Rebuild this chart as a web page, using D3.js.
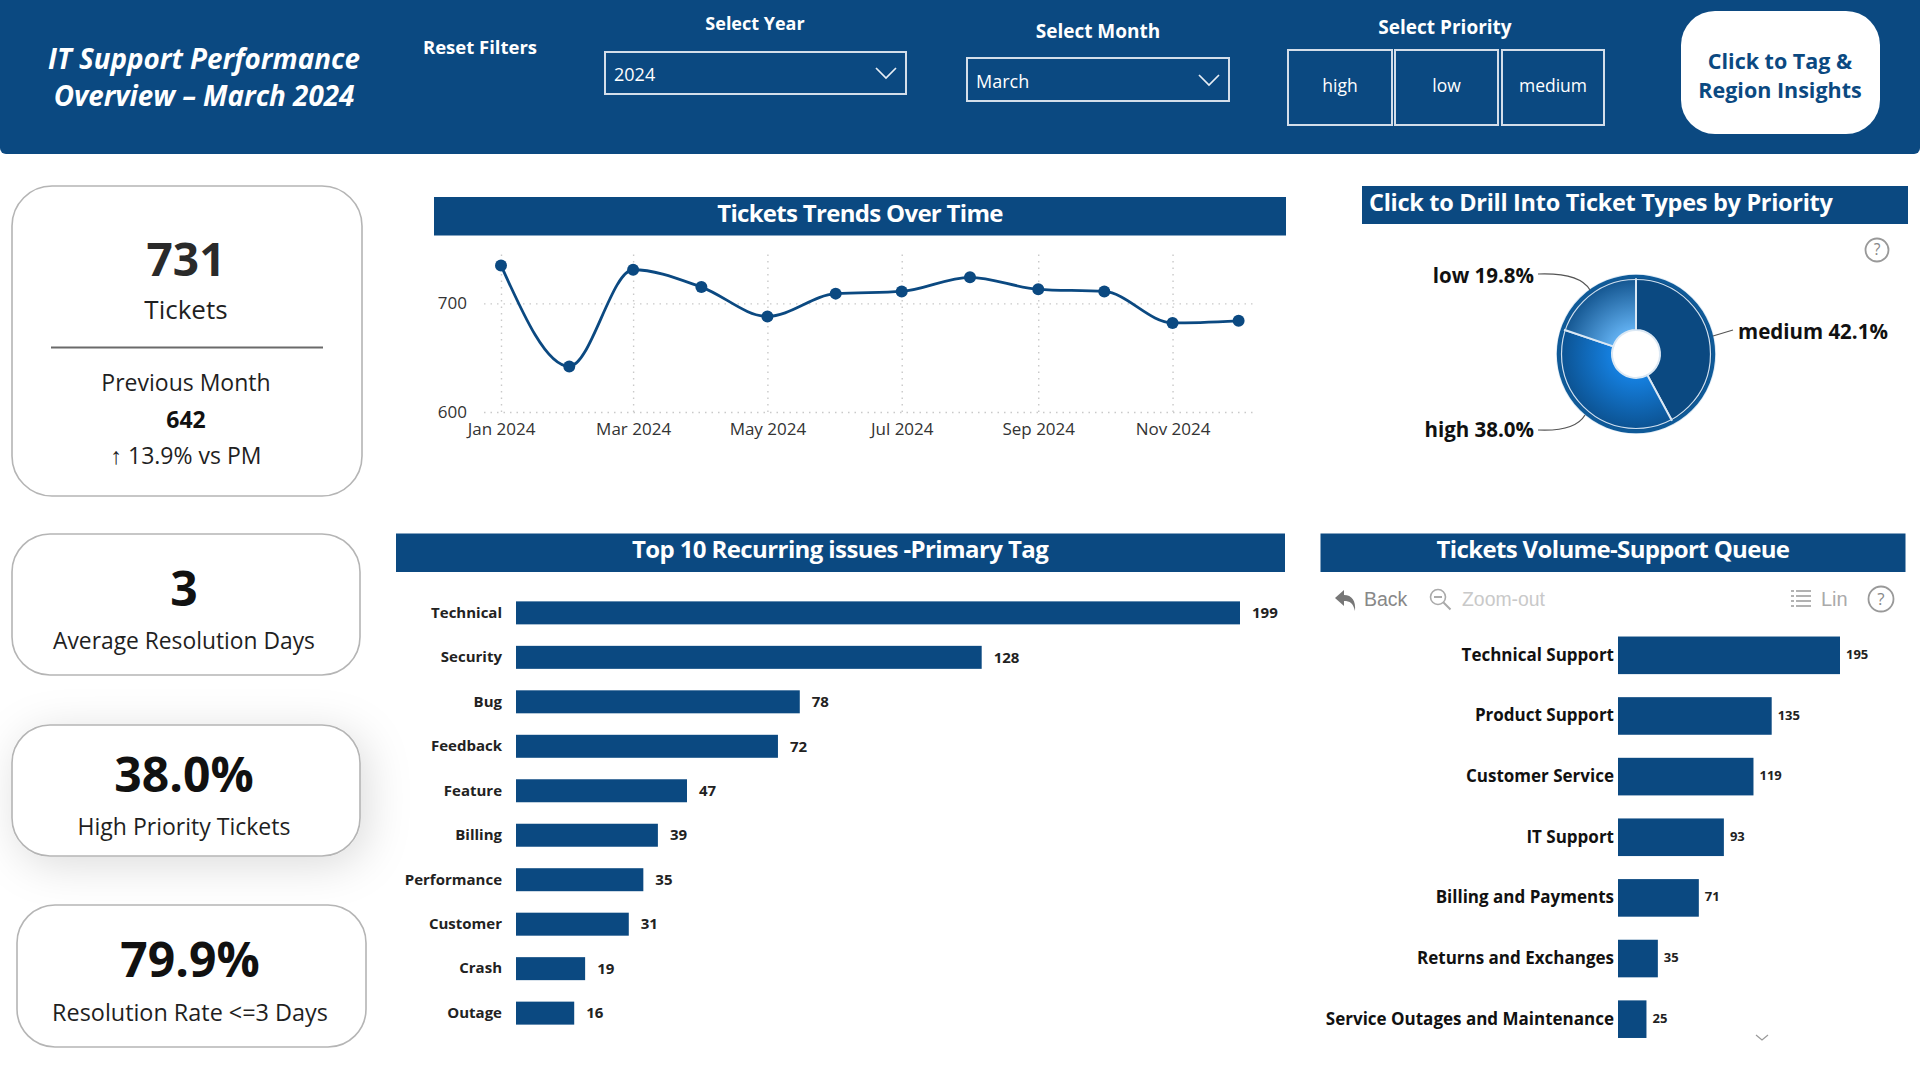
<!DOCTYPE html>
<html><head><meta charset="utf-8">
<script src="https://cdn.jsdelivr.net/npm/d3@7"></script>
<style>
html,body{margin:0;padding:0;background:#fff;overflow:hidden}
svg{display:block}
text{font-family:"Open Sans","Noto Sans",sans-serif}
</style></head><body>
<svg id="c" width="1920" height="1080" viewBox="0 0 1920 1080"></svg>
<script>
// ---- data ----
const trendMonths = ["2024-01","2024-02","2024-03","2024-04","2024-05","2024-06","2024-07","2024-08","2024-09","2024-10","2024-11","2024-12"];
const trendValues = [735,642,731,715,688,709,711,724,713,711,682,684];
const trendTickMonths = ["2024-01","2024-03","2024-05","2024-07","2024-09","2024-11"];
const trendYTicks = [600,700];
const priorityNames = ["medium","high","low"];
const priorityShares = [42.1,38.0,19.8];
const tagNames = ["Technical","Security","Bug","Feedback","Feature","Billing","Performance","Customer","Crash","Outage"];
const tagValues = [199,128,78,72,47,39,35,31,19,16];
const queueNames = ["Technical Support","Product Support","Customer Service","IT Support","Billing and Payments","Returns and Exchanges","Service Outages and Maintenance"];
const queueValues = [195,135,119,93,71,35,25];
const priorityButtons = ["high","low","medium"];

// ---- setup ----
const NAVY="#0b4981", INK="#1f1f1f";
const svg=d3.select("#c");
const defs=svg.append("defs");
function txt(s,x,y,size,o={}){
  const t=svg.append("text").attr("x",x).attr("y",y).attr("dy","0.35em")
    .attr("font-size",size).attr("font-weight",o.w||400).attr("font-style",o.i?"italic":"normal")
    .attr("fill",o.c||INK).attr("text-anchor",o.a||"middle").text(s);
  if(o.ls)t.attr("letter-spacing",o.ls);
  return t;
}
function rect(x,y,w,h,o={}){
  return svg.append("rect").attr("x",x).attr("y",y).attr("width",w).attr("height",h)
    .attr("rx",o.r||0).attr("fill",o.f||"none").attr("stroke",o.s||"none").attr("stroke-width",o.sw||0);
}
const f=defs.append("filter").attr("id","soft").attr("x","-30%").attr("y","-60%").attr("width","160%").attr("height","220%");
f.append("feDropShadow").attr("dx",6).attr("dy",8).attr("stdDeviation",22).attr("flood-color","#000").attr("flood-opacity",0.14);

// ---- banner ----
svg.append("path").attr("d","M0,0H1920V148a6,6 0 0 1 -6,6H6a6,6 0 0 1 -6,-6Z").attr("fill",NAVY);
txt("IT Support Performance",204,59,27.8,{w:700,i:1,c:"#fff"});
txt("Overview – March 2024",204,96.5,27.8,{w:700,i:1,c:"#fff"});
txt("Reset Filters",480,47.5,18.5,{w:700,c:"#fff"});
txt("Select Year",755,24,18,{w:700,c:"#fff"});
txt("Select Month",1098,31,19,{w:700,c:"#fff"});
txt("Select Priority",1445,27,19,{w:700,c:"#fff"});
function dropdown(x,y,w,h,label,ty,cy){
  rect(x,y,w,h,{s:"#d4deea",sw:2});
  txt(label,x+9,ty,18,{a:"start",c:"#fff"});
  const cx=x+w-20;
  svg.append("polyline").attr("points",`${cx-10},${cy-5} ${cx},${cy+5} ${cx+10},${cy-5}`)
    .attr("fill","none").attr("stroke","#e8eef5").attr("stroke-width",1.7);
}
dropdown(605,52,301,42,"2024",75,73);
dropdown(967,58,262,43,"March",82,80);
const btnX=[1288,1395,1502], btnW=[104,103,102];
priorityButtons.forEach((b,i)=>{
  rect(btnX[i],50,btnW[i],75,{s:"#d4deea",sw:2});
  txt(b,btnX[i]+btnW[i]/2,86,17.5,{c:"#fff"});
});
rect(1681,11,199,123,{r:34,f:"#fff"});
txt("Click to Tag &",1780,61,21.5,{w:700,c:NAVY});
txt("Region Insights",1780,90,21.5,{w:700,c:NAVY});

// ---- KPI cards ----
function card(x,y,w,h,r,shadow){
  const c=rect(x,y,w,h,{r,f:"#fff",s:"#b5b5b5",sw:1.6});
  if(shadow)c.attr("filter","url(#soft)");
}
card(12,186,350,310,40);
txt("731",186,260,46,{w:700,c:"#2a2a2a"});
txt("Tickets",186,310,26);
svg.append("line").attr("x1",51).attr("x2",323).attr("y1",347.5).attr("y2",347.5).attr("stroke","#6a6a6a").attr("stroke-width",2);
txt("Previous Month",186,383,23);
txt("642",186,420,23,{w:700,c:"#111"});
txt("↑ 13.9% vs PM",186,456,23);

card(12,534,348,141,38);
txt("3",184,589,48,{w:700,c:"#111"});
txt("Average Resolution Days",184,641,22.8);
card(12,725,348,131,38,true);
txt("38.0%",184,775,48,{w:700,c:"#111"});
txt("High Priority Tickets",184,827,23);
card(17,905,349,142,38);
txt("79.9%",190,960,48,{w:700,c:"#111"});
txt("Resolution Rate <=3 Days",190,1013,23.4);

// ---- section headers ----
rect(434,197,852,38.5,{f:NAVY});
txt("Tickets Trends Over Time",860,214,24,{w:700,c:"#fff",ls:-0.7});
rect(1362,186,546,38,{f:NAVY});
txt("Click to Drill Into Ticket Types by Priority",1369,203,23.5,{w:700,c:"#fff",a:"start",ls:-0.3});
rect(396,533.5,889,38.5,{f:NAVY});
txt("Top 10 Recurring issues -Primary Tag",840,550,24,{w:700,c:"#fff",ls:-0.6});
rect(1320.5,533.5,585,38.5,{f:NAVY});
txt("Tickets Volume-Support Queue",1613,550,24,{w:700,c:"#fff",ls:-0.65});

// ---- trend line ----
const parseM=d3.utcParse("%Y-%m"), fmtM=d3.utcFormat("%b %Y");
const tx=d3.scaleUtc().domain([parseM(trendMonths[0]),parseM(trendMonths[trendMonths.length-1])]).range([501,1238.6]);
const ty=d3.scaleLinear().domain([600,700]).range([412,303.4]);
const trend=trendMonths.map((m,i)=>({d:parseM(m),v:trendValues[i]}));
const gx=svg.append("g").attr("transform","translate(0,412)")
  .call(d3.axisBottom(tx).tickValues(trendTickMonths.map(parseM)).tickFormat(fmtM).tickSize(-157.5).tickPadding(8));
const gy=svg.append("g").attr("transform","translate(484,0)")
  .call(d3.axisLeft(ty).tickValues(trendYTicks).tickSize(-771).tickPadding(17));
[gx,gy].forEach(g=>{
  g.select(".domain").remove();
  g.selectAll("line").attr("stroke","#c9c9c9").attr("stroke-width",1.4).attr("stroke-dasharray","1.5 5");
  g.selectAll("text").attr("font-size",17).attr("fill","#333").attr("font-family",'"Open Sans",sans-serif');
});
gx.selectAll("text").attr("y",11).attr("dy","0.71em");
svg.append("path").datum(trend)
  .attr("d",d3.line().x(d=>tx(d.d)).y(d=>ty(d.v)).curve(d3.curveMonotoneX))
  .attr("fill","none").attr("stroke",NAVY).attr("stroke-width",2.8);
svg.append("g").selectAll("circle").data(trend).join("circle")
  .attr("cx",d=>tx(d.d)).attr("cy",d=>ty(d.v)).attr("r",6).attr("fill",NAVY);

// ---- donut ----
const dc=[1636,354], rOut=79, rIn=24;
const gradHigh=defs.append("radialGradient").attr("id","gHigh").attr("gradientUnits","userSpaceOnUse")
  .attr("cx",0).attr("cy",0).attr("r",rOut);
gradHigh.append("stop").attr("offset","0.3").attr("stop-color","#1580e0");
gradHigh.append("stop").attr("offset","1").attr("stop-color","#0b4f8c");
const gradLow=defs.append("radialGradient").attr("id","gLow").attr("gradientUnits","userSpaceOnUse")
  .attr("cx",0).attr("cy",0).attr("r",rOut);
gradLow.append("stop").attr("offset","0.3").attr("stop-color","#62b1f2");
gradLow.append("stop").attr("offset","1").attr("stop-color","#0e4f89");
const sliceFill={medium:NAVY,high:"url(#gHigh)",low:"url(#gLow)"};
const pie=d3.pie().sort(null).value((d,i)=>priorityShares[i])(priorityNames);
const arc=d3.arc().innerRadius(rIn).outerRadius(rOut);
const gd=svg.append("g").attr("transform",`translate(${dc})`);
gd.selectAll("path").data(pie).join("path").attr("d",arc).attr("fill",d=>sliceFill[d.data])
  .attr("stroke","#dbe8f4").attr("stroke-width",2);
gd.append("circle").attr("r",rOut-1.5).attr("fill","none").attr("stroke","#0f5a98").attr("stroke-width",3.4);
gd.append("circle").attr("r",rOut-4.5).attr("fill","none").attr("stroke","#cfe0f0").attr("stroke-width",1.2);
const leaders=[["M1713,336L1733,330"],["M1538,430C1560,431 1578,427 1585,415"],["M1538,274C1565,273 1583,278 1590,290"]];
leaders.forEach(l=>svg.append("path").attr("d",l[0]).attr("fill","none").attr("stroke","#555").attr("stroke-width",1.2));
const sliceLabel=(i)=>`${priorityNames[i]} ${priorityShares[i].toFixed(1)}%`;
txt(sliceLabel(0),1738,332,20.5,{w:700,c:"#111",a:"start"});
txt(sliceLabel(1),1534,430,20.5,{w:700,c:"#111",a:"end"});
txt(sliceLabel(2),1534,276,20.5,{w:700,c:"#111",a:"end"});
function help(x,y,r){
  svg.append("circle").attr("cx",x).attr("cy",y).attr("r",r).attr("fill","none").attr("stroke","#999").attr("stroke-width",1.8);
  txt("?",x,y,r*1.35,{c:"#888"});
}
help(1877,250,11.5);

// ---- top tags bars ----
const bx=d3.scaleLinear().domain([0,199]).range([516,1240]);
const by=d3.scaleBand().domain(tagNames).range([590.7,1035.3]).paddingInner(0.483).paddingOuter(0.24);
svg.append("g").selectAll("rect").data(tagNames).join("rect")
  .attr("x",bx(0)).attr("y",d=>by(d)).attr("width",(d,i)=>bx(tagValues[i])-bx(0)).attr("height",by.bandwidth()).attr("fill",NAVY);
const ayTag=svg.append("g").attr("transform","translate(516,0)").call(d3.axisLeft(by).tickSize(0).tickPadding(14));
ayTag.select(".domain").remove();
ayTag.selectAll("text").attr("font-size",15).attr("font-weight",700).attr("fill","#222").attr("font-family",'"Open Sans",sans-serif');
svg.append("g").selectAll("text").data(tagNames).join("text")
  .attr("x",(d,i)=>bx(tagValues[i])+12).attr("y",d=>by(d)+by.bandwidth()/2).attr("dy","0.35em")
  .attr("font-size",15).attr("font-weight",700).attr("fill","#222").text((d,i)=>tagValues[i]);

// ---- queue toolbar ----
svg.append("path").attr("d","M1344,590l-9,8l9,8v-5c6,0 9,2 11,10c1,-10 -3,-16 -11,-16Z").attr("fill","#777");
txt("Back",1364,599,19.5,{a:"start",c:"#888"}).style("font-family","'Liberation Sans',sans-serif");
svg.append("circle").attr("cx",1438).attr("cy",597).attr("r",7.5).attr("fill","none").attr("stroke","#aaa").attr("stroke-width",1.6);
svg.append("path").attr("d","M1434,597h8M1443.5,602.5l7,7").attr("stroke","#aaa").attr("stroke-width",2).attr("fill","none");
txt("Zoom-out",1462,599,19.4,{a:"start",c:"#c9c9c9"}).style("font-family","'Liberation Sans',sans-serif");
svg.append("path").attr("d","M1796,591h15M1796,596h15M1796,601h15M1796,606h15M1791,591h3M1791,596h3M1791,601h3M1791,606h3").attr("stroke","#999").attr("stroke-width",1.5).attr("fill","none");
txt("Lin",1821,599,20,{a:"start",c:"#aaa"}).style("font-family","'Liberation Sans',sans-serif");
help(1881,599,12.5);

// ---- queue bars ----
const qx=d3.scaleLinear().domain([0,195]).range([1618,1840]);
const qy=d3.scaleBand().domain(queueNames).range([625,1049.5]).paddingInner(0.38).paddingOuter(0.19);
svg.append("g").selectAll("rect").data(queueNames).join("rect")
  .attr("x",qx(0)).attr("y",d=>qy(d)).attr("width",(d,i)=>qx(queueValues[i])-qx(0)).attr("height",qy.bandwidth()).attr("fill",NAVY);
const ayQ=svg.append("g").attr("transform","translate(1618,0)").call(d3.axisLeft(qy).tickSize(0).tickPadding(4));
ayQ.select(".domain").remove();
ayQ.selectAll("text").attr("font-size",17).attr("font-weight",700).attr("fill","#111").attr("font-family",'"Open Sans",sans-serif');
svg.append("g").selectAll("text").data(queueNames).join("text")
  .attr("x",(d,i)=>qx(queueValues[i])+6).attr("y",d=>qy(d)+qy.bandwidth()/2-1).attr("dy","0.35em")
  .attr("font-size",13).attr("font-weight",700).attr("fill","#222").text((d,i)=>queueValues[i]);
svg.append("polyline").attr("points","1756,1035 1762,1040 1768,1035").attr("fill","none").attr("stroke","#999").attr("stroke-width",1.2);
</script>
</body></html>
